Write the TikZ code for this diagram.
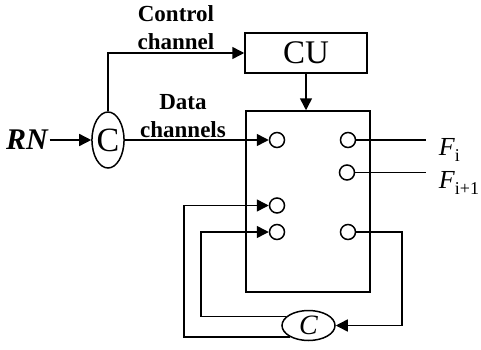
\documentclass[tikz,border=0pt]{standalone}
\usepackage{fontspec}
\setmainfont{Liberation Serif}
\usepackage{tikz}
\usetikzlibrary{arrows.meta,positioning,shapes.geometric,calc}

\newcommand{\Fsub}[1]{\textit{F}\raisebox{-0.55ex}{\fontsize{9}{9}\selectfont #1}}

\begin{document}
\begin{tikzpicture}[
    x=0.5pt, y=0.5pt,
    line width=0.75pt,
    box/.style={rectangle, draw=black, line width=0.75pt, inner sep=0pt},
    port/.style={circle, draw=black, minimum size=7.5pt, inner sep=0pt},
    comb/.style={ellipse, draw=black, inner sep=0pt},
    arrow/.style={-{Triangle[length=6pt,width=6pt]}},
    lbl/.style={font=\bfseries\fontsize{11.5}{14}\selectfont, align=center, inner sep=0pt}
]
\useasboundingbox (0,0) rectangle (481,349);

% Blocks
\node[box, minimum width=61pt, minimum height=20pt, font=\fontsize{16.5}{18}\selectfont] (cu) at (306,296) {CU};
\node[box, minimum width=62pt, minimum height=90.5pt] (sw) at (308,147.5) {};
\node[comb, minimum width=16pt, minimum height=28pt, font=\fontsize{17}{18}\selectfont] (cin) at (108,209) {C};
\node[comb, minimum width=26.5pt, minimum height=15pt, font=\itshape\fontsize{14}{15}\selectfont] (cfb) at (308.5,23.5) {C};
\node[inner sep=0.5pt, font=\bfseries\itshape\fontsize{15}{16}\selectfont] (rn) at (27,209) {RN};

% Ports
\node[port] (in1) at (277,209) {};
\node[port] (in3) at (277,143.5) {};
\node[port] (in4) at (277,117) {};
\node[port] (out1) at (348,209) {};
\node[port] (out2) at (347,176.5) {};
\node[port] (out4) at (348,117) {};

% Labels
\node[lbl] (lblctl) at (176,321) {Control\\channel};
\node[lbl] (lbldata) at (183,233) {Data\\channels};
\node[anchor=base west, inner xsep=6pt, inner ysep=0pt, font=\fontsize{13}{14}\selectfont] (fi) at (426,194) {\Fsub{i}};
\node[anchor=base west, inner xsep=6pt, inner ysep=0pt, font=\fontsize{13}{14}\selectfont] (fi1) at (426,161) {\Fsub{i+1}};

% Corners
\coordinate (fbR) at (402,23.5);
\coordinate (fbL1) at (201,0);
\coordinate (fbL2) at (184,0);

% Connectors
\draw[arrow] (rn.east) -- (cin.west);
\draw[arrow] (cin.north) |- (cu.west);
\draw[arrow] (cin.east) -- (in1.west);
\draw[arrow] (cu.south) -- (cu.south |- sw.north);
\draw (out1.east) -- (out1.east -| fi.west);
\draw (out2.east) -- (out2.east -| fi1.west);
\draw[arrow] (out4.east) -| (fbR) -- (cfb.east);
\draw[arrow] (cfb.158) -- (cfb.158 -| fbL1) |- (in4.west);
\draw[arrow] (cfb.212) -- (cfb.212 -| fbL2) |- (in3.west);

\end{tikzpicture}
\end{document}
